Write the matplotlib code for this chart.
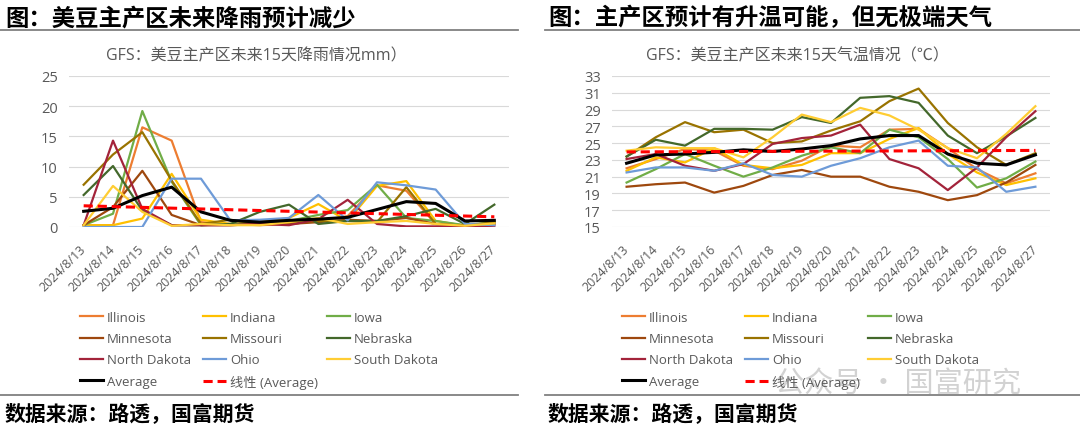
import matplotlib
matplotlib.use('Agg')
import matplotlib.pyplot as plt
from matplotlib.lines import Line2D
import numpy as np

plt.rcParams['font.family'] = ['Open Sans', 'Noto Sans CJK SC', 'DejaVu Sans']

dates = ['2024/8/13', '2024/8/14', '2024/8/15', '2024/8/16', '2024/8/17',
         '2024/8/18', '2024/8/19', '2024/8/20', '2024/8/21', '2024/8/22',
         '2024/8/23', '2024/8/24', '2024/8/25', '2024/8/26', '2024/8/27']

states = ['Illinois', 'Indiana', 'Iowa', 'Minnesota', 'Missouri', 'Nebraska',
          'North Dakota', 'Ohio', 'South Dakota']
state_colors = ['#ED7D31', '#FFC000', '#70AD47', '#9E480E', '#997300', '#43682B',
                '#A3233A', '#6E9BD8', '#FFCD33']

# ---- rainfall (mm) ----
rain_illinois = [0.3, 0.3, 16.5, 14.3, 0.8, 0.5, 0.3, 0.5, 1.0, 1.8, 6.9, 6.0, 0.5, 0.2, 0.5]
rain_indiana = [0.3, 0.3, 1.4, 8.8, 1.2, 0.5, 0.8, 1.5, 3.8, 1.0, 6.8, 7.6, 1.0, 0.2, 0.8]
rain_iowa = [0.3, 2.2, 19.2, 7.5, 0.3, 0.5, 0.5, 1.0, 2.0, 2.8, 7.0, 1.5, 1.0, 0.3, 0.8]
rain_minnesota = [0.3, 3.3, 9.3, 2.0, 0.3, 0.3, 0.5, 0.5, 0.8, 1.2, 1.0, 1.5, 0.5, 0.2, 0.5]
rain_missouri = [7.0, 12.0, 15.7, 7.7, 0.5, 1.2, 0.5, 0.8, 1.0, 1.0, 0.8, 6.6, 0.5, 0.2, 0.8]
rain_nebraska = [5.3, 10.1, 2.7, 0.3, 0.3, 0.5, 2.5, 3.7, 0.5, 1.0, 1.0, 1.8, 3.0, 0.5, 3.7]
rain_north_dakota = [0.3, 14.3, 3.0, 0.3, 0.3, 0.3, 0.5, 0.3, 1.3, 4.5, 0.5, 0.1, 0.1, 0.1, 0.2]
rain_ohio = [0.0, 0.0, 0.0, 8.0, 8.0, 1.1, 1.2, 1.5, 5.3, 1.1, 7.4, 6.9, 6.2, 0.5, 0.3]
rain_south_dakota = [0.3, 6.8, 2.5, 0.2, 0.5, 0.3, 0.3, 0.8, 1.5, 0.5, 0.8, 1.0, 0.5, 0.2, 0.6]
rain_average = [2.6, 3.1, 5.2, 6.6, 2.5, 1.1, 0.8, 1.1, 1.3, 1.6, 2.9, 4.2, 3.9, 1.0, 1.1]

# ---- temperature (C) ----
temp_illinois = [22.0, 23.1, 24.3, 24.1, 22.3, 21.9, 22.9, 24.7, 24.5, 26.6, 26.7, 24.4, 21.9, 20.2, 21.4]
temp_indiana = [21.7, 23.3, 22.7, 24.4, 22.4, 22.0, 22.4, 23.8, 23.8, 25.5, 26.8, 23.7, 21.5, 20.0, 20.8]
temp_iowa = [20.3, 21.9, 23.7, 22.3, 21.0, 22.1, 23.5, 24.5, 23.8, 26.6, 25.7, 23.1, 19.7, 20.8, 22.8]
temp_minnesota = [19.8, 20.1, 20.3, 19.1, 19.9, 21.2, 21.8, 21.0, 21.0, 19.8, 19.2, 18.2, 18.8, 20.3, 22.4]
temp_missouri = [23.4, 25.7, 27.5, 26.3, 26.6, 25.0, 25.2, 26.5, 27.6, 30.0, 31.5, 27.4, 24.5, 22.4, 23.8]
temp_nebraska = [23.4, 25.4, 24.7, 26.7, 26.7, 26.6, 28.1, 27.4, 30.4, 30.6, 29.8, 25.9, 23.8, 25.8, 28.0]
temp_north_dakota = [23.1, 23.7, 22.3, 21.7, 22.5, 24.9, 25.6, 25.9, 27.2, 23.1, 22.0, 19.4, 22.1, 25.7, 28.8]
temp_ohio = [21.5, 22.1, 22.1, 21.7, 22.6, 21.2, 21.0, 22.3, 23.2, 24.5, 25.3, 22.3, 22.1, 19.2, 19.8]
temp_south_dakota = [24.1, 24.5, 24.4, 24.4, 23.3, 25.7, 28.4, 27.5, 29.2, 28.3, 26.6, 24.4, 23.2, 26.1, 29.4]
temp_average = [22.6, 23.6, 23.7, 23.9, 24.2, 24.0, 24.3, 24.7, 25.5, 25.9, 25.9, 23.7, 22.6, 22.4, 23.6]

rain_series = [rain_illinois, rain_indiana, rain_iowa, rain_minnesota, rain_missouri,
               rain_nebraska, rain_north_dakota, rain_ohio, rain_south_dakota]
temp_series = [temp_illinois, temp_indiana, temp_iowa, temp_minnesota, temp_missouri,
               temp_nebraska, temp_north_dakota, temp_ohio, temp_south_dakota]

W, H = 1080, 431
fig = plt.figure(figsize=(W / 100, H / 100), dpi=100)


def fx(px):
    return px / W


def fy(py):
    return 1 - py / H


GRAY = '#595959'
CJK = ['Noto Sans CJK SC', 'DejaVu Sans']


def draw_panel(ax, series, avg, yticks, ylim):
    x = np.arange(len(dates))
    lines = []
    for vals, c, name in zip(series, state_colors, states):
        ln, = ax.plot(x, vals, color=c, lw=1.6, label=name, zorder=2)
        lines.append(ln)
    ln_avg, = ax.plot(x, avg, color='black', lw=2.2, label='Average', zorder=3)
    coef = np.polyfit(x, avg, 1)
    ln_tr, = ax.plot(x, np.polyval(coef, x), color='#FF0000', lw=2.2,
                     ls=(0, (3, 1.6)), label='线性 (Average)', zorder=4)
    ax.set_xlim(-0.5, len(dates) - 0.5)
    ax.set_ylim(*ylim)
    ax.set_yticks(yticks)
    ax.set_xticks(x)
    ax.set_xticklabels(dates, rotation=45, ha='right', va='center',
                       rotation_mode='anchor', fontsize=9, color=GRAY)
    ax.tick_params(axis='x', length=0, pad=14)
    ax.tick_params(axis='y', length=0, pad=8, labelsize=10.5, labelcolor=GRAY)
    for s in ax.spines.values():
        s.set_visible(False)
    ax.grid(axis='y', color='#D9D9D9', lw=0.8)
    ax.set_axisbelow(True)
    return lines, ln_avg, ln_tr


def draw_legend(lines, ln_avg, ln_tr, col_x):
    cols = [[lines[0], lines[3], lines[6], ln_avg],
            [lines[1], lines[4], lines[7], ln_tr],
            [lines[2], lines[5], lines[8]]]
    for cx, hs in zip(col_x, cols):
        fig.legend(handles=hs, labels=[h.get_label() for h in hs],
                   loc='upper left', bbox_to_anchor=(fx(cx), fy(312)),
                   bbox_transform=fig.transFigure, frameon=False,
                   labelcolor=GRAY, handlelength=1.75,
                   handletextpad=0.3, labelspacing=0.62, borderpad=0,
                   borderaxespad=0,
                   prop={'family': ['Open Sans', 'Noto Sans CJK SC'], 'size': 9.5})


ax1 = fig.add_axes([fx(69), fy(228), fx(509 - 69), (228 - 77) / H])
l1, a1, t1 = draw_panel(ax1, rain_series, rain_average, [0, 5, 10, 15, 20, 25], (0, 25))
ax2 = fig.add_axes([fx(612), fy(228), fx(1050 - 612), (228 - 77) / H])
l2, a2, t2 = draw_panel(ax2, temp_series, temp_average,
                        [15, 17, 19, 21, 23, 25, 27, 29, 31, 33], (15, 33))

draw_legend(l1, a1, t1, [80, 203, 327])
draw_legend(l2, a2, t2, [622, 745, 868])

# headers / footers
fig.text(fx(5), fy(18), '图：美豆主产区未来降雨预计减少', fontsize=16.8, fontweight='bold',
         family=CJK, va='center', ha='left', color='black')
fig.text(fx(548), fy(18), '图：主产区预计有升温可能，但无极端天气', fontsize=16.8, fontweight='bold',
         family=CJK, va='center', ha='left', color='black')
fig.text(fx(256), fy(56), 'GFS：美豆主产区未来15天降雨情况mm）', fontsize=11.5,
         color=GRAY, va='center', ha='center')
fig.text(fx(797), fy(56), 'GFS：美豆主产区未来15天气温情况（℃）', fontsize=11.5,
         color=GRAY, va='center', ha='center')
fig.text(fx(5), fy(414), '数据来源：路透，国富期货', fontsize=15, fontweight='bold',
         family=CJK, va='center', ha='left', color='black')
fig.text(fx(548), fy(414), '数据来源：路透，国富期货', fontsize=15, fontweight='bold',
         family=CJK, va='center', ha='left', color='black')

for (x0, x1) in [(0, 518), (545, 1080)]:
    fig.add_artist(Line2D([fx(x0), fx(x1)], [fy(31), fy(31)], color='#808080', lw=1.3))
    fig.add_artist(Line2D([fx(x0), fx(x1)], [fy(396), fy(396)], color='#808080', lw=1.3))

# watermark
fig.text(fx(775), fy(385), '公众号 · 国富研究', fontsize=21, color='#A6A6A6', alpha=0.5,
         family=CJK, va='center', ha='left')

fig.savefig('out.png', dpi=100)
